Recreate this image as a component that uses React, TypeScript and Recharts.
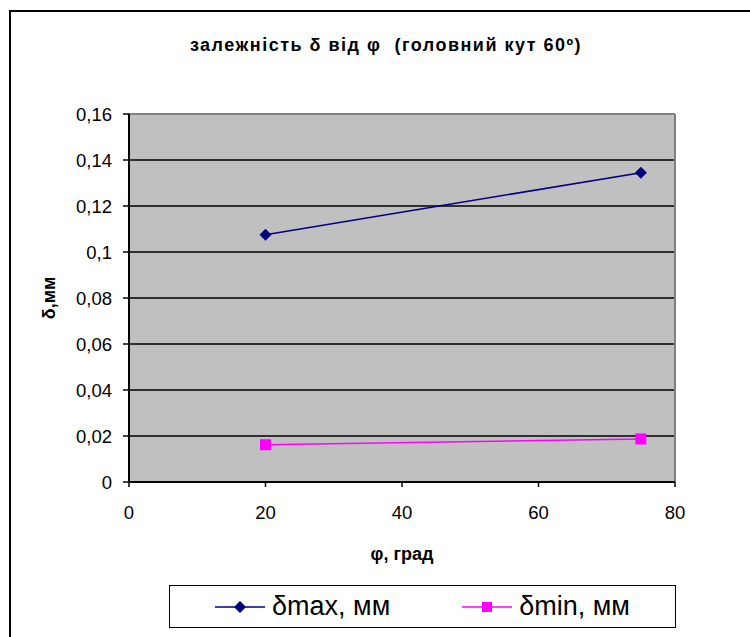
import { LineChart, Line, XAxis, YAxis, CartesianGrid, ReferenceLine } from 'recharts'

const angles = [20, 75]
const deltaMax = [0.1075, 0.1345]
const deltaMin = [0.0162, 0.0187]
const xTicks = [0, 20, 40, 60, 80]
const yTicks = [0, 0.02, 0.04, 0.06, 0.08, 0.1, 0.12, 0.14, 0.16]
const seriesNames = ['δmax, мм', 'δmin, мм']

const data = angles.map((a, i) => ({ phi: a, max: deltaMax[i], min: deltaMin[i] }))

const FONT = '"Liberation Sans", Arial, sans-serif'
const NAVY = '#000080'
const MAGENTA = '#FF00FF'

function formatComma(v: number) {
  return String(v).replace('.', ',')
}

function Diamond(props: any) {
  const { cx, cy } = props
  if (cx == null || cy == null) return null
  const r = 6
  return <path d={`M${cx},${cy - r}L${cx + r},${cy}L${cx},${cy + r}L${cx - r},${cy}Z`} fill={NAVY} />
}

function Square(props: any) {
  const { cx, cy } = props
  if (cx == null || cy == null) return null
  const s = 5.5
  return <rect x={cx - s} y={cy - s} width={s * 2} height={s * 2} fill={MAGENTA} />
}

// legend drawn outside the chart so it doesn't eat the plot's bottom margin
function LegendBox() {
  const items = [
    { label: seriesNames[0], color: NAVY, shape: 'diamond' },
    { label: seriesNames[1], color: MAGENTA, shape: 'square' },
  ]
  return (
    <div
      style={{
        position: 'absolute',
        left: 169,
        top: 585,
        width: 505,
        height: 41,
        display: 'flex',
        justifyContent: 'center',
        alignItems: 'center',
        gap: 72,
        border: '1.5px solid #000',
        background: '#fff',
        fontFamily: FONT,
        fontSize: 27,
        color: '#000',
      }}
    >
      {items.map((it) => (
        <div key={it.label} style={{ display: 'flex', alignItems: 'center' }}>
          <svg width={50} height={14} style={{ marginRight: 7 }}>
            <line x1={0} y1={7} x2={50} y2={7} stroke={it.color} strokeWidth={1.5} />
            {it.shape === 'diamond' ? (
              <path d="M25,1L31,7L25,13L19,7Z" fill={it.color} />
            ) : (
              <rect x={20} y={2} width={10} height={10} fill={it.color} />
            )}
          </svg>
          <span>{it.label}</span>
        </div>
      ))}
    </div>
  )
}

export default function App() {
  return (
    <div style={{ position: 'relative', width: 750, height: 637, overflow: 'hidden', background: '#fff' }}>
      <style>{'body{margin:0}'}</style>
      <div
        style={{
          position: 'absolute',
          left: 9,
          top: 10,
          width: 800,
          height: 700,
          borderLeft: '2px solid #000',
          borderTop: '2px solid #000',
        }}
      />
      <div
        style={{
          position: 'absolute',
          left: 0,
          width: 772,
          top: 35,
          textAlign: 'center',
          fontFamily: FONT,
          fontWeight: 'bold',
          fontSize: 18,
          letterSpacing: 1.5,
          color: '#000',
        }}
      >
        залежність δ від φ&nbsp;&nbsp;(головний кут 60º)
      </div>
      <LineChart
        width={750}
        height={637}
        data={data}
        margin={{ top: 114, right: 75, left: 0, bottom: 125 }}
        style={{ position: 'absolute', left: 0, top: 0 }}
      >
        <CartesianGrid horizontal vertical={false} stroke="#000" strokeWidth={1.5} fill="#C0C0C0" fillOpacity={1} />
        <XAxis
          dataKey="phi"
          type="number"
          domain={[0, 80]}
          ticks={xTicks}
          height={30}
          axisLine={{ stroke: '#000', strokeWidth: 2 }}
          tickLine={{ stroke: '#000', strokeWidth: 1.5 }}
          tickSize={5}
          tickMargin={19}
          tick={{ fill: '#000', fontSize: 18.5, fontFamily: FONT }}
          label={{
            content: (p: any) => {
              const vb = p.viewBox
              return (
                <text
                  x={vb.x + vb.width / 2}
                  y={vb.y + vb.height + 48}
                  textAnchor="middle"
                  fontFamily={FONT}
                  fontWeight="bold"
                  fontSize={18}
                  fill="#000"
                >
                  φ, град
                </text>
              )
            },
          }}
        />
        <YAxis
          type="number"
          domain={[0, 0.16]}
          ticks={yTicks}
          width={129}
          axisLine={{ stroke: '#000', strokeWidth: 2 }}
          tickLine={{ stroke: '#000', strokeWidth: 1.5 }}
          tickSize={6}
          tickMargin={11}
          tickFormatter={formatComma}
          tick={{ fill: '#000', fontSize: 18.5, fontFamily: FONT }}
          label={{
            content: (p: any) => {
              const vb = p.viewBox
              const cx = vb.x + 55
              const cy = vb.y + vb.height / 2
              return (
                <text
                  x={cx}
                  y={cy}
                  transform={`rotate(-90, ${cx}, ${cy})`}
                  textAnchor="middle"
                  fontFamily={FONT}
                  fontWeight="bold"
                  fontSize={18}
                  fill="#000"
                >
                  δ,мм
                </text>
              )
            },
          }}
        />
        <ReferenceLine y={0.16} stroke="#808080" strokeWidth={2} />
        <ReferenceLine x={80} stroke="#808080" strokeWidth={2} />
        <Line
          dataKey="max"
          name={seriesNames[0]}
          stroke={NAVY}
          strokeWidth={1.5}
          dot={<Diamond />}
          activeDot={false}
          isAnimationActive={false}
        />
        <Line
          dataKey="min"
          name={seriesNames[1]}
          stroke={MAGENTA}
          strokeWidth={1.5}
          dot={<Square />}
          activeDot={false}
          isAnimationActive={false}
        />
      </LineChart>
      <LegendBox />
    </div>
  )
}
